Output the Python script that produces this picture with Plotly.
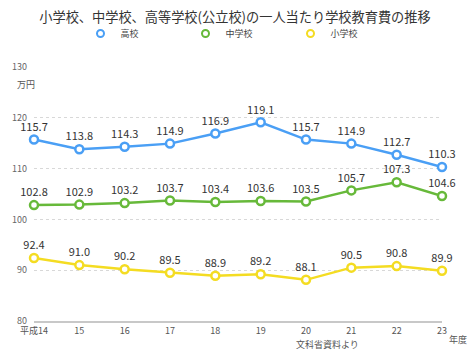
import plotly.graph_objects as go

years = [14, 15, 16, 17, 18, 19, 20, 21, 22, 23]
tick_labels = ["平成14", "15", "16", "17", "18", "19", "20", "21", "22", "23"]
koukou = [115.7, 113.8, 114.3, 114.9, 116.9, 119.1, 115.7, 114.9, 112.7, 110.3]
chugakkou = [102.8, 102.9, 103.2, 103.7, 103.4, 103.6, 103.5, 105.7, 107.3, 104.6]
shougakkou = [92.4, 91.0, 90.2, 89.5, 88.9, 89.2, 88.1, 90.5, 90.8, 89.9]

series = [("高校", koukou, "#4a9ff5"), ("中学校", chugakkou, "#67b93a"), ("小学校", shougakkou, "#f4dc22")]

FONT = "Noto Sans CJK JP"
fig = go.Figure()
for name, vals, col in series:
    fig.add_trace(go.Scatter(
        x=years, y=vals, name=name, mode="lines+markers+text",
        line=dict(color=col, width=2.5),
        marker=dict(symbol="circle", size=8, color="white", line=dict(color=col, width=2.5)),
        text=[f"{v:.1f}" for v in vals], textposition="top center",
        textfont=dict(size=11, color="#333333", family=FONT),
        cliponaxis=False, showlegend=False,
    ))
# legend entries: marker only
for name, vals, col in series:
    fig.add_trace(go.Scatter(
        x=[None], y=[None], name=name, mode="markers",
        marker=dict(symbol="circle", size=7, color="white", line=dict(color=col, width=2)),
    ))

fig.update_layout(
    width=470, height=353,
    margin=dict(l=34, r=28, t=65, b=32),
    paper_bgcolor="white", plot_bgcolor="white",
    font=dict(family=FONT, color="#555555"),
    title=dict(text="小学校、中学校、高等学校(公立校)の一人当たり学校教育費の推移",
               x=0.5, xanchor="center", y=0.952, yanchor="middle",
               font=dict(size=13.2, color="#333333", family=FONT)),
    legend=dict(orientation="h", x=0.5, xanchor="center", y=0.905, yref="container",
                yanchor="middle", font=dict(size=9, color="#444444"),
                itemwidth=30, entrywidth=60, entrywidthmode="pixels",
                tracegroupgap=0),
    showlegend=True,
)
fig.update_xaxes(range=[14, 23], tickvals=years, ticktext=tick_labels,
                 showgrid=False, showline=True, linecolor="#c8c8c8", linewidth=2,
                 ticks="", tickfont=dict(size=9, color="#555555"), zeroline=False)
fig.update_yaxes(range=[80, 130], dtick=10, showgrid=True, gridcolor="#d8d8d8",
                 griddash="dot", gridwidth=1, ticks="", zeroline=False, showline=False,
                 ticklabelstandoff=6, tickfont=dict(size=9, color="#666666"))
fig.add_annotation(text="万円", xref="paper", yref="paper", x=-0.02, y=0.93,
                   showarrow=False, font=dict(size=9, color="#555555"),
                   xanchor="center", yanchor="middle")
fig.add_annotation(text="年度", xref="paper", yref="paper", x=1.039, y=-0.074,
                   showarrow=False, font=dict(size=9, color="#555555"),
                   xanchor="center", yanchor="middle")
fig.add_annotation(text="文科省資料より", xref="paper", yref="paper", x=0.72, y=-0.094,
                   showarrow=False, font=dict(size=9, color="#555555"),
                   xanchor="center", yanchor="middle")
fig.write_html("out.html")
